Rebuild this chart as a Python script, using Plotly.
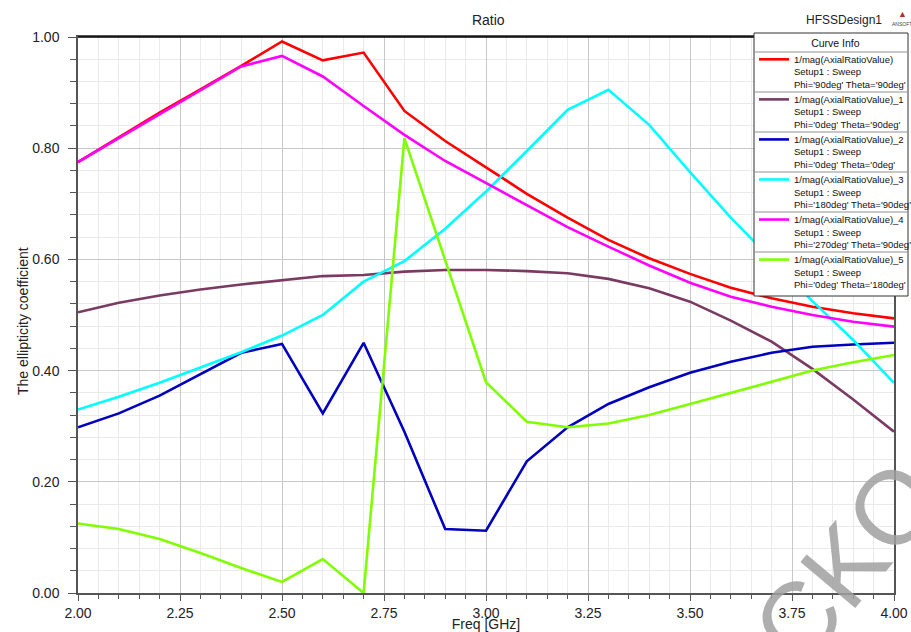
import plotly.graph_objects as go

freq = [2.0, 2.1, 2.2, 2.3, 2.4, 2.5, 2.6, 2.7, 2.8, 2.9, 3.0,
        3.1, 3.2, 3.3, 3.4, 3.5, 3.6, 3.7, 3.8, 3.9, 4.0]

ar0 = [0.775, 0.820, 0.864, 0.906, 0.948, 0.992, 0.958, 0.972, 0.867, 0.813, 0.765,
       0.718, 0.675, 0.635, 0.602, 0.574, 0.549, 0.530, 0.515, 0.503, 0.494]
ar1 = [0.505, 0.522, 0.535, 0.546, 0.555, 0.562, 0.570, 0.572, 0.578, 0.581, 0.581,
       0.579, 0.575, 0.565, 0.548, 0.524, 0.490, 0.452, 0.403, 0.348, 0.290]
ar2 = [0.298, 0.323, 0.355, 0.393, 0.432, 0.448, 0.323, 0.450, 0.290, 0.115, 0.112,
       0.237, 0.298, 0.340, 0.370, 0.396, 0.416, 0.432, 0.443, 0.447, 0.450]
ar3 = [0.330, 0.353, 0.378, 0.405, 0.433, 0.463, 0.500, 0.560, 0.597, 0.655, 0.722,
       0.795, 0.869, 0.905, 0.842, 0.757, 0.675, 0.600, 0.525, 0.455, 0.378]
ar4 = [0.775, 0.818, 0.860, 0.904, 0.947, 0.966, 0.929, 0.876, 0.824, 0.777, 0.737,
       0.697, 0.658, 0.623, 0.589, 0.558, 0.533, 0.515, 0.500, 0.488, 0.479]
ar5 = [0.125, 0.115, 0.097, 0.072, 0.045, 0.020, 0.061, 0.000, 0.818, 0.600, 0.379,
       0.308, 0.298, 0.305, 0.320, 0.340, 0.360, 0.380, 0.400, 0.415, 0.428]

names = [
    "1/mag(AxialRatioValue)<br>Setup1 : Sweep<br>Phi='90deg' Theta='90deg'",
    "1/mag(AxialRatioValue)_1<br>Setup1 : Sweep<br>Phi='0deg' Theta='90deg'",
    "1/mag(AxialRatioValue)_2<br>Setup1 : Sweep<br>Phi='0deg' Theta='0deg'",
    "1/mag(AxialRatioValue)_3<br>Setup1 : Sweep<br>Phi='180deg' Theta='90deg'",
    "1/mag(AxialRatioValue)_4<br>Setup1 : Sweep<br>Phi='270deg' Theta='90deg'",
    "1/mag(AxialRatioValue)_5<br>Setup1 : Sweep<br>Phi='0deg' Theta='180deg'",
]
colors = ["#FF0000", "#7A3A62", "#0000BE", "#00FFFF", "#FF00FF", "#80FF00"]
series = [ar0, ar1, ar2, ar3, ar4, ar5]

FONT = "Liberation Sans, Arial, sans-serif"
W, H = 911, 632
L, R, T, B = 78, 17, 37, 39
PW, PH = W - L - R, H - T - B


def px(xp):
    return (xp - L) / PW


def py(yp):
    return (H - B - yp) / PH


fig = go.Figure()
for ys, nm, c in zip(series, names, colors):
    fig.add_trace(go.Scatter(x=freq, y=ys, mode="lines", name=nm,
                             line=dict(color=c, width=2.6)))

fig.update_layout(
    width=W, height=H,
    margin=dict(l=L, r=R, t=T, b=B, autoexpand=False),
    paper_bgcolor="white", plot_bgcolor="white",
    font=dict(family=FONT, color="#222"),
    title=dict(text="Ratio", x=458 / W, xref="paper", xanchor="center",
               y=1 - 20 / H, yanchor="middle", font=dict(size=14, color="#222")),
    showlegend=True,
    legend=dict(
        x=px(754), y=py(33), xanchor="left", yanchor="top",
        bgcolor="rgba(255,255,255,0)", borderwidth=0,
        font=dict(size=9.5, family=FONT, color="#111"),
        title=dict(text="Curve Info", side="top center", font=dict(size=10.5)),
        valign="top", itemwidth=30, tracegroupgap=0,
    ),
    xaxis=dict(
        range=[2.0, 4.0], dtick=0.25, tick0=2.0, tickformat=".2f",
        title=dict(text="Freq [GHz]", font=dict(size=14), standoff=0),
        tickfont=dict(size=14), showgrid=True, gridcolor="#C8C8C8", gridwidth=1,
        showline=True, linecolor="#555", linewidth=1.5, mirror=True,
        ticks="outside", ticklen=6, tickcolor="#555", zeroline=False,
        automargin=False,
        minor=dict(dtick=0.05, showgrid=True, gridcolor="#EAEAEA", gridwidth=1,
                   ticks="outside", ticklen=4, tickcolor="#555"),
    ),
    yaxis=dict(
        range=[0.0, 1.0], dtick=0.2, tick0=0.0, tickformat=".2f",
        tickfont=dict(size=14), showgrid=True, gridcolor="#C8C8C8", gridwidth=1,
        showline=True, linecolor="#555", linewidth=1.5, mirror=True,
        ticks="outside", ticklen=8, tickcolor="#555", zeroline=False,
        ticklabelstandoff=6, automargin=False,
        minor=dict(dtick=0.04, showgrid=True, gridcolor="#EAEAEA", gridwidth=1,
                   ticks="outside", ticklen=6, tickcolor="#555"),
    ),
)

# y-axis title (overlaps the tick labels as in the original)
fig.add_annotation(text="The ellipticity coefficient", xref="paper", yref="paper",
                   x=px(23), y=py(321), xanchor="center", yanchor="middle",
                   textangle=-90, showarrow=False,
                   font=dict(size=14, family=FONT, color="#222"))

# top border black
fig.add_shape(type="line", xref="paper", yref="paper", x0=0, x1=1, y0=1, y1=1,
              line=dict(color="black", width=1.5))

# legend box with separators (drawn under the legend text)
LX0, LX1, LY0, LY1 = 754, 908, 33, 296
fig.add_shape(type="rect", xref="paper", yref="paper", layer="above",
              x0=px(LX0), x1=px(LX1), y0=py(LY1), y1=py(LY0),
              fillcolor="white", line=dict(color="#333", width=1))
for k in range(6):
    yy = 52 + 40 * k
    fig.add_shape(type="line", xref="paper", yref="paper", layer="above",
                  x0=px(LX0 + 1), x1=px(LX1 - 1), y0=py(yy), y1=py(yy),
                  line=dict(color="#C8C8C8", width=2))

fig.add_annotation(text="HFSSDesign1", xref="paper", yref="paper",
                   x=px(844), y=py(20), xanchor="center", yanchor="middle",
                   showarrow=False, font=dict(size=12, family=FONT, color="#222"))
fig.add_annotation(text="▲", xref="paper", yref="paper",
                   x=px(902), y=py(14), xanchor="center", yanchor="middle",
                   showarrow=False, font=dict(size=9, color="#B03030"))
fig.add_annotation(text="ANSOFT", xref="paper", yref="paper",
                   x=px(902), y=py(24), xanchor="center", yanchor="middle",
                   showarrow=False, font=dict(size=5, color="#444"))

# watermark
fig.add_annotation(text="CKO", xref="paper", yref="paper",
                   x=px(846), y=py(563), xanchor="center", yanchor="middle",
                   showarrow=False, textangle=-50,
                   font=dict(size=104, color="rgba(160,160,160,0.85)", family=FONT))

fig.write_html("out.html", config={"displayModeBar": False},
               post_script="document.body.style.margin='0px';"
                           "document.body.style.padding='0px';")
